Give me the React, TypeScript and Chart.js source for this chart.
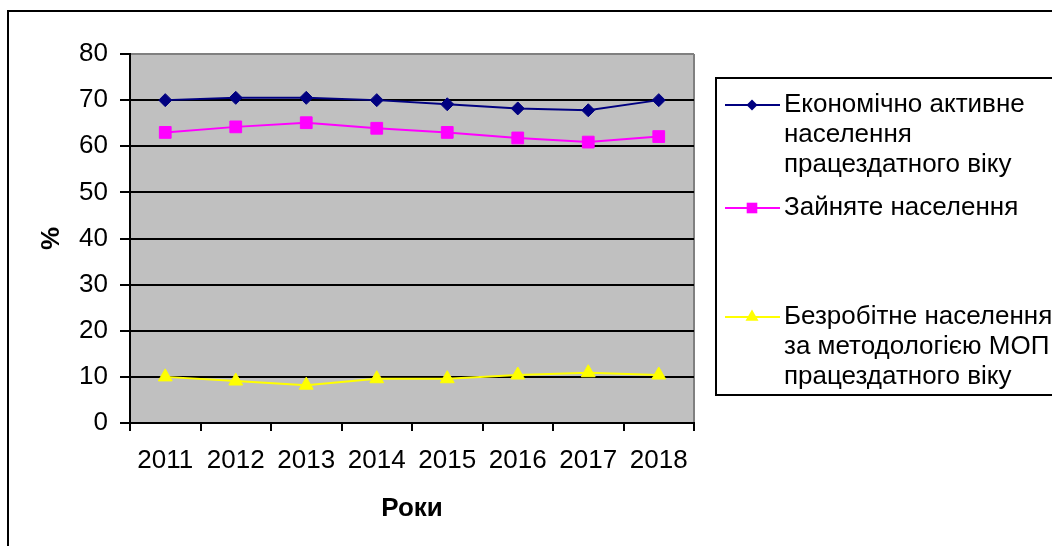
import React, { useEffect, useRef } from 'react';
import { Chart, registerables } from 'chart.js';

Chart.register(...registerables);

const years = ['2011', '2012', '2013', '2014', '2015', '2016', '2017', '2018'];
const activeValues = [70.0, 70.5, 70.5, 70.0, 69.1, 68.2, 67.8, 70.0];
const employedValues = [63.0, 64.2, 65.1, 63.9, 63.0, 61.8, 60.9, 62.1];
const unemployedValues = [10.0, 9.1, 8.2, 9.6, 9.6, 10.4, 10.9, 10.4];

const activeLabel = ['Економічно активне', 'населення', 'працездатного віку'];
const employedLabel = ['Зайняте населення'];
const unemployedLabel = ['Безробітне населення', 'за методологією МОП', 'працездатного віку'];

const xTitle = 'Роки';
const yTitle = '%';
const yMin = 0;
const yMax = 80;
const yStep = 10;

const FONT = "'Liberation Sans', Arial, sans-serif";

const seriesLabels = [activeLabel, employedLabel, unemployedLabel];
const seriesColors = ['#000080', '#FF00FF', '#FFFF00'];
const seriesStyles = ['rectRot', 'rect', 'triangle'];

function drawMarker(ctx: CanvasRenderingContext2D, style: string, x: number, y: number, r: number, color: string) {
  ctx.beginPath();
  if (style === 'rectRot') {
    ctx.moveTo(x, y - r);
    ctx.lineTo(x + r, y);
    ctx.lineTo(x, y + r);
    ctx.lineTo(x - r, y);
  } else if (style === 'rect') {
    const s = r * Math.SQRT1_2;
    ctx.rect(x - s, y - s, 2 * s, 2 * s);
  } else {
    ctx.moveTo(x, y - r);
    ctx.lineTo(x + r * 0.866, y + r / 2);
    ctx.lineTo(x - r * 0.866, y + r / 2);
  }
  ctx.closePath();
  ctx.fillStyle = color;
  ctx.fill();
}

const framePlugin = {
  id: 'xlFrame',
  beforeDraw(chart: any) {
    const { ctx, chartArea } = chart;
    ctx.save();
    // outer chart frame
    ctx.fillStyle = '#000';
    ctx.fillRect(7, 10, 2, 600);
    ctx.fillRect(7, 10, 1100, 2);
    // plot area background
    ctx.fillStyle = '#C0C0C0';
    ctx.fillRect(chartArea.left, chartArea.top, chartArea.right - chartArea.left, chartArea.bottom - chartArea.top);
    // right border of plot
    ctx.strokeStyle = '#808080';
    ctx.lineWidth = 2;
    ctx.beginPath();
    ctx.moveTo(chartArea.right, chartArea.top);
    ctx.lineTo(chartArea.right, chartArea.bottom);
    ctx.stroke();
    ctx.restore();
  },
};

const legendPlugin = {
  id: 'xlLegend',
  afterDraw(chart: any) {
    const ctx: CanvasRenderingContext2D = chart.ctx;
    ctx.save();
    ctx.strokeStyle = '#000';
    ctx.lineWidth = 2;
    ctx.strokeRect(716, 78, 500, 317);
    const rowTops = [105, 208, 317];
    const lineGap = 30;
    ctx.font = `26px ${FONT}`;
    ctx.textBaseline = 'middle';
    ctx.textAlign = 'left';
    chart.data.datasets.forEach((ds: any, i: number) => {
      const y = rowTops[i];
      ctx.strokeStyle = seriesColors[i];
      ctx.lineWidth = 2;
      ctx.beginPath();
      ctx.moveTo(725, y);
      ctx.lineTo(780, y);
      ctx.stroke();
      const r = seriesStyles[i] === 'rectRot' ? 5.5 : 7.5;
      drawMarker(ctx, seriesStyles[i], 752, y, r, seriesColors[i]);
      ctx.fillStyle = '#000';
      seriesLabels[i].forEach((line, k) => {
        ctx.fillText(line, 784, y + k * lineGap);
      });
    });
    ctx.restore();
  },
};

export default function App() {
  const canvasRef = useRef<HTMLCanvasElement | null>(null);

  useEffect(() => {
    const canvas = canvasRef.current;
    if (!canvas) return;
    const chart = new Chart(canvas, {
      type: 'line',
      data: {
        labels: years,
        datasets: [
          {
            label: activeLabel.join(' '),
            data: activeValues,
            borderColor: seriesColors[0],
            backgroundColor: seriesColors[0],
            borderWidth: 2,
            pointStyle: 'rectRot',
            pointRadius: 6.5,
            pointBorderWidth: 1,
            pointBackgroundColor: seriesColors[0],
            pointBorderColor: seriesColors[0],
            tension: 0,
          },
          {
            label: employedLabel.join(' '),
            data: employedValues,
            borderColor: seriesColors[1],
            backgroundColor: seriesColors[1],
            borderWidth: 2,
            pointStyle: 'rect',
            pointRadius: 8.3,
            pointBorderWidth: 1,
            pointBackgroundColor: seriesColors[1],
            pointBorderColor: seriesColors[1],
            tension: 0,
          },
          {
            label: unemployedLabel.join(' '),
            data: unemployedValues,
            borderColor: seriesColors[2],
            backgroundColor: seriesColors[2],
            borderWidth: 2,
            pointStyle: 'triangle',
            pointRadius: 8,
            pointBorderWidth: 1,
            pointBackgroundColor: seriesColors[2],
            pointBorderColor: seriesColors[2],
            tension: 0,
          },
        ],
      },
      options: {
        responsive: false,
        animation: false,
        layout: { padding: { left: 0, top: 54, right: 358, bottom: 0 } },
        plugins: {
          legend: { display: false },
          tooltip: { enabled: false },
        },
        scales: {
          x: {
            type: 'category',
            offset: true,
            afterFit: (scale: any) => {
              scale.height = 123;
            },
            grid: {
              offset: true,
              drawOnChartArea: false,
              drawTicks: true,
              tickLength: 8,
              color: '#000',
              tickColor: '#000',
              lineWidth: 2,
            },
            border: { display: true, color: '#000', width: 2 },
            ticks: {
              color: '#000',
              font: { family: FONT, size: 26 },
              padding: 14,
              maxRotation: 0,
              autoSkip: false,
            },
            title: {
              display: true,
              text: xTitle,
              color: '#000',
              font: { family: FONT, size: 26, weight: 'bold' },
              padding: { top: 0, bottom: 22 },
            },
          },
          y: {
            min: yMin,
            max: yMax,
            afterFit: (scale: any) => {
              scale.width = 130;
            },
            grid: {
              color: (c: any) => (c.tick && c.tick.value === yMax ? '#808080' : '#000'),
              tickColor: '#000',
              lineWidth: 2,
              drawTicks: true,
              tickLength: 10,
            },
            border: { display: true, color: '#000', width: 2 },
            ticks: {
              stepSize: yStep,
              color: '#000',
              font: { family: FONT, size: 26 },
              padding: 12,
            },
            title: {
              display: true,
              text: yTitle,
              color: '#000',
              font: { family: FONT, size: 26, weight: 'bold' },
              padding: { top: 36, bottom: 0 },
            },
          },
        },
      },
      plugins: [framePlugin, legendPlugin],
    } as any);
    return () => {
      chart.destroy();
    };
  }, []);

  return (
    <div style={{ position: 'fixed', left: 0, top: 0, width: 1052, height: 546, overflow: 'hidden', background: '#fff' }}>
      <canvas ref={canvasRef} width={1052} height={546} style={{ display: 'block' }} />
    </div>
  );
}
